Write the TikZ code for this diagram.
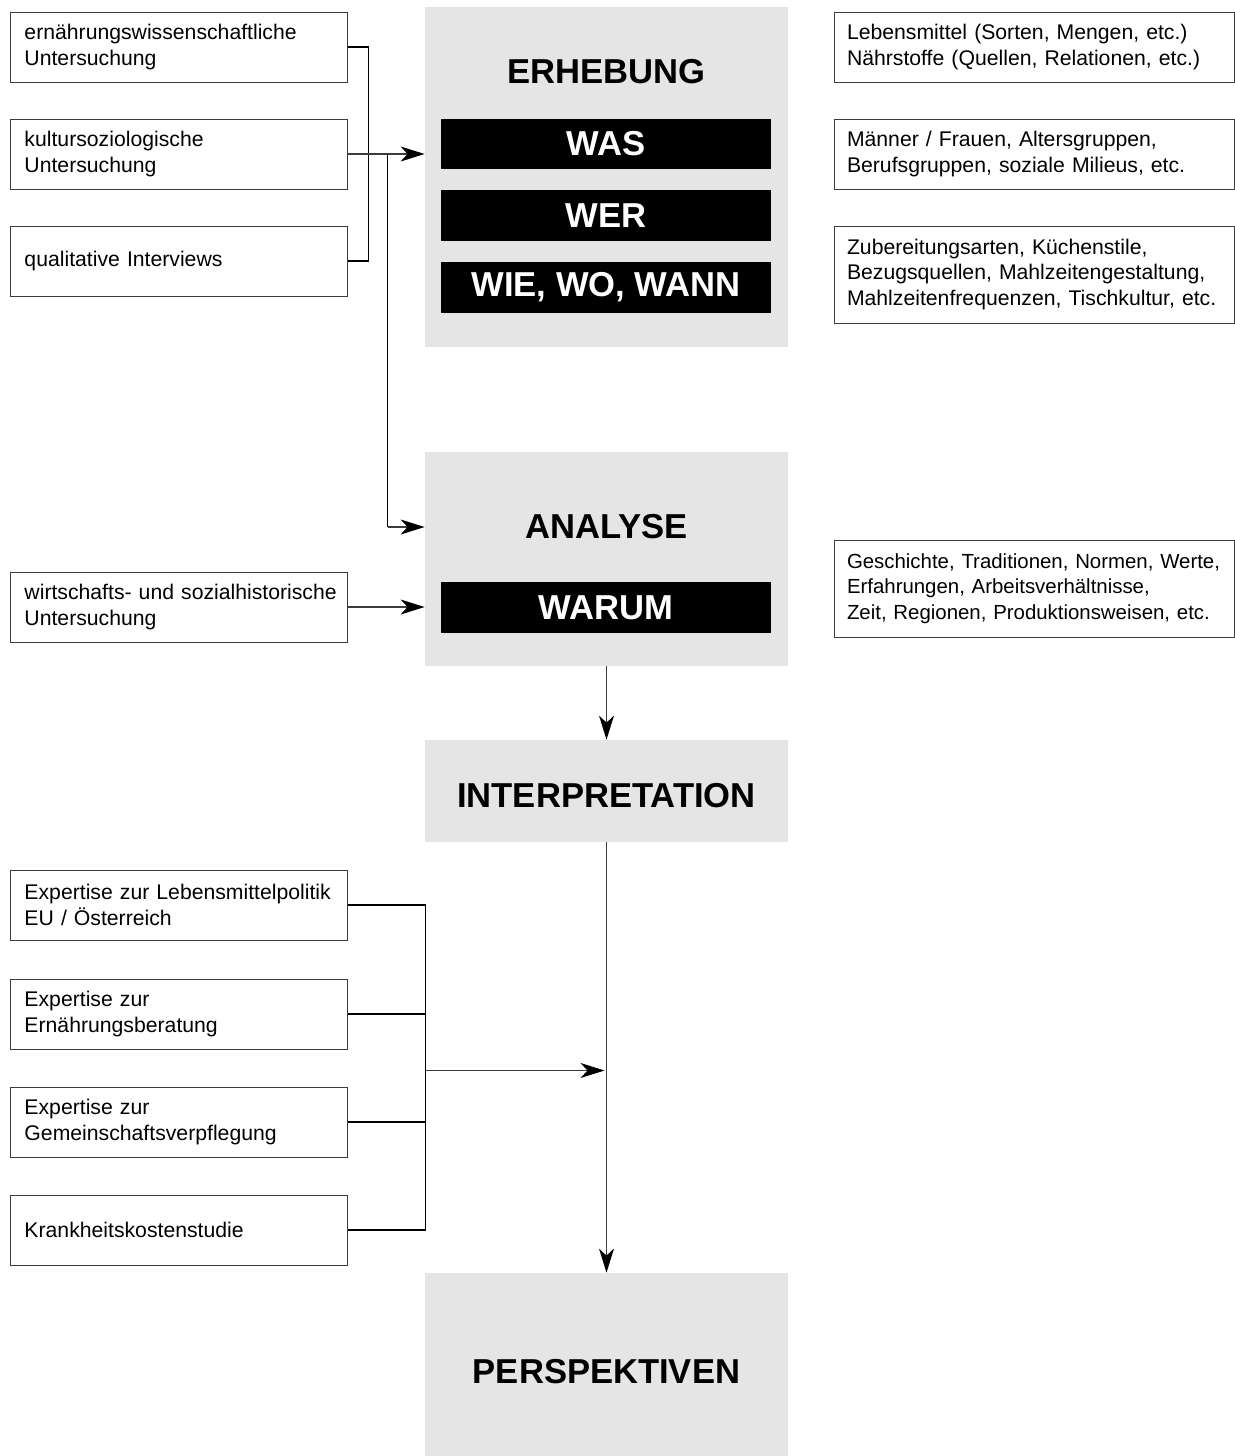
\documentclass[tikz,border=0pt]{standalone}
\usepackage{fontspec}
\setmainfont{Liberation Sans}
\usepackage{tikz}
\usetikzlibrary{positioning,arrows.meta,calc}
\definecolor{panelc}{RGB}{229,229,229}
\definecolor{linec}{RGB}{60,60,60}
\tikzset{
  source/.style = {draw=linec, line width=0.5pt, fill=white, text width=154pt,
                   inner xsep=7.25pt, inner ysep=0pt, minimum height=35pt, align=left,
                   font=\fontsize{10.6}{12.75}\selectfont},
  detail/.style = {draw=linec, line width=0.5pt, fill=white, text width=187pt,
                   inner xsep=6.5pt, inner ysep=0pt, align=left,
                   font=\fontsize{10.6}{12.75}\selectfont},
  panel/.style  = {fill=panelc, minimum width=181.5pt, inner sep=0pt},
  ptitle/.style = {font=\fontsize{17.3}{20}\selectfont\bfseries, inner sep=0pt},
  qbar/.style   = {fill=black, text=white, minimum width=165pt, inner sep=0pt,
                   font=\fontsize{17.3}{20}\selectfont\bfseries},
  flow/.style   = {-{Stealth[length=12pt, width=7.5pt, inset=3.5pt, color=black]},
                   line width=0.6pt, draw=linec},
  bracket/.style= {line width=0.8pt, draw=black},
}
\begin{document}
\begin{tikzpicture}[x=0.5pt, y=-0.5pt]
\useasboundingbox (0,0) rectangle (1235,1456);

% ---------- grey stages ----------
\node[panel, minimum height=170pt] (erh) at (606.5,177) {};
\node[panel, minimum height=107pt] (ana) at (606.5,559) {};
\node[panel, minimum height=51pt] (int) at (606.5,791) {};
\node[panel, minimum height=91.5pt] (per) at (606.5,1364.5) {};
\node[ptitle] (erht) at (606.5,72) {ERHEBUNG};
\node[ptitle] (anat) at (606.5,527) {ANALYSE};
\node[ptitle] (intt) at (606.5,796) {INTERPRETATION};
\node[ptitle] (pert) at (606.5,1372) {PERSPEKTIVEN};

% ---------- question bars ----------
\node[qbar, minimum height=25pt] (was) at (606,144) {WAS};
\node[qbar, minimum height=25.5pt] (wer) at (606,215.5) {WER};
\node[qbar, minimum height=25.5pt] (wie) at (606,287.5) {WIE, WO, WANN};
\node[qbar, minimum height=25.5pt] (warum) at (606,607.5) {WARUM};

% ---------- sources, left ----------
\node[source] (ernw) at (178.5,47) {ernährungswissenschaftliche\\Untersuchung};
\node[source] (kult) at (178.5,154) {kultursoziologische\\Untersuchung};
\node[source] (qual) at (178.5,261) {qualitative Interviews};
\node[source] (wirt) at (178.5,607) {\mbox{wirtschafts- und sozialhistorische}\\Untersuchung};
\node[source] (expl) at (178.5,905) {\mbox{Expertise zur Lebensmittelpolitik}\\EU / Österreich};
\node[source] (expb) at (178.5,1014) {Expertise zur\\Ernährungsberatung};
\node[source] (expg) at (178.5,1122) {Expertise zur\\Gemeinschaftsverpflegung};
\node[source] (krank) at (178.5,1230) {Krankheitskostenstudie};

% ---------- details, right ----------
\node[detail, minimum height=35pt] (dwas) at (1034,47) {Lebensmittel (Sorten, Mengen, etc.)\\Nährstoffe (Quellen, Relationen, etc.)};
\node[detail, minimum height=35pt] (dwer) at (1034,154) {Männer / Frauen, Altersgruppen,\\Berufsgruppen, soziale Milieus, etc.};
\node[detail, minimum height=48.5pt] (dwie) at (1034,274.5) {Zubereitungsarten, Küchenstile,\\Bezugsquellen, Mahlzeitengestaltung,\\Mahlzeitenfrequenzen, Tischkultur, etc.};
\node[detail, minimum height=48.5pt, font=\fontsize{10.2}{12.75}\selectfont] (dwarum) at (1034,588.5) {Geschichte, Traditionen, Normen, Werte,\\Erfahrungen, Arbeitsverhältnisse,\\Zeit, Regionen, Produktionsweisen, etc.};

% ---------- connectors ----------
\draw[bracket] (ernw.east) -- ++(21,0) |- (qual.east);
\coordinate (split) at ($(kult.east)+(40,0)$);
\draw[bracket] (split) -- (split |- anat);
\draw[flow] (kult.east) -- (kult.east -| erh.west);
\draw[flow] (split |- anat) -- (ana.west |- anat);
\draw[flow] (wirt.east) -- (wirt.east -| ana.west);
\draw[flow] (ana.south) -- (int.north);
\draw[flow] (int.south) -- (per.north);
\draw[bracket] (expl.east) -- ++(78,0) |- (krank.east);
\draw[bracket] (expb.east) -- ++(78,0);
\draw[bracket] (expg.east) -- ++(78,0);
\coordinate (merge) at ($($(expl.east)!0.5!(krank.east)$)+(78,3)$);
\draw[flow] (merge) -- ($(merge -| int.south)+(-2,0)$);

\end{tikzpicture}
\end{document}
